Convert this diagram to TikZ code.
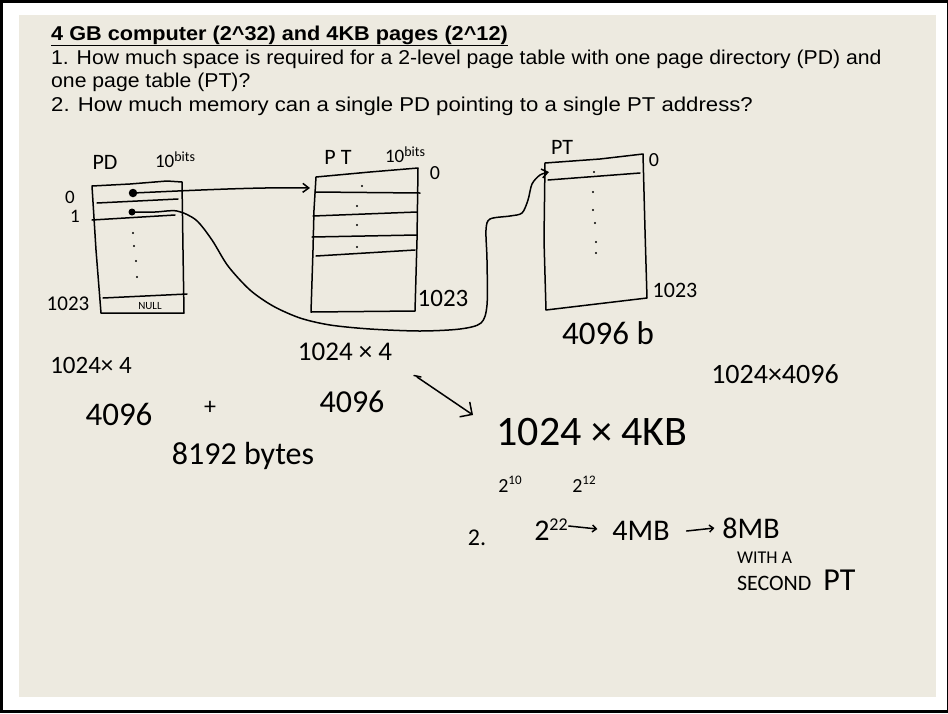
\documentclass[tikz,border=0pt]{standalone}
\usepackage{fontspec}
\setmainfont{Liberation Sans}
\newfontfamily\hwfont{Carlito}
\usetikzlibrary{arrows.meta}
\definecolor{paper}{RGB}{237,234,224}
\newcommand\hsz[1]{\hwfont\fontsize{#1}{#1}\selectfont}
\newcommand\qtxt[2]{\scalebox{#1}[1]{\fontsize{20}{24}\selectfont #2}}
\begin{document}
\begin{tikzpicture}[x=1pt,y=-1pt,
  hand/.style={line width=1.5pt,line cap=round,line join=round},
  harrow/.style={hand,-{Straight Barb[length=6pt,width=9pt]}},
  hw/.style={inner sep=0pt,outer sep=0pt},
  hwb/.style={inner sep=0pt,outer sep=0pt,anchor=base west},
  qline/.style={anchor=base west,inner sep=0pt},
  dotnode/.style={circle,fill,inner sep=0pt}]
\useasboundingbox (0,0) rectangle (948,713);
\fill[black] (0,0) rectangle (948,713);
\fill[white] (3,3) rectangle (946.5,709.5);
\fill[paper] (19,15) rectangle (936,697);

% question text
\node[qline] (title) at (51,40) {\qtxt{1.084}{\bfseries\underline{4 GB computer (2\textasciicircum 32) and 4KB pages (2\textasciicircum 12)}}};
\node[qline] (q1a) at (51,64.3) {\qtxt{1.06}{1. How much space is required for a 2-level page table with one page directory (PD) and}};
\node[qline] (q1b) at (51,87.7) {\qtxt{1.06}{one page table (PT)?}};
\node[qline] (q2) at (51,111.7) {\qtxt{1.108}{2. How much memory can a single PD pointing to a single PT address?}};

% ---- PD box
\draw[hand] (92,186) -- (130,184) -- (167,181) -- (182,182) -- (183,250) -- (184,313) -- (101,313) -- (96,250) -- cycle;
\draw[hand] (97,203) -- (178,199);
\draw[hand] (92,220) -- (175,215);
\draw[hand] (103,298) -- (187,294);
\foreach \p in {(133,233),(134,246),(136,261),(137,277)} \fill \p circle (1.2pt);
\node[dotnode,minimum size=8.5pt] (d0) at (133,193) {};
\node[dotnode,minimum size=7pt] (d1) at (132,212) {};

\node[hw] (pdlab) at (105,162) {\hsz{22}PD};
\node[hwb] (pdbits) at (155,167) {\hsz{19}10\raisebox{6pt}{\hsz{14}bits}};
\node[hw] (pd0) at (70,197) {\hsz{19}0};
\node[hw] (pd1) at (75,216) {\hsz{19}1};
\node[hw] (pd1023) at (68,304) {\hsz{21}1023};
\node[hw] (null) at (150,306) {\hsz{11}NULL};

% ---- PT (first)
\draw[hand] (316,177) -- (370,172) -- (418,168) -- (417,240) -- (415,311) -- (311,312) -- (313,250) -- (314,210) -- cycle;
\draw[hand] (315,192) -- (420,193);
\draw[hand] (313,216) -- (417,212);
\draw[hand] (312,237) -- (417,235);
\draw[hand] (316,256) -- (415,250);
\foreach \p in {(362,186),(357,206),(357,225),(357,247)} \fill \p circle (1.1pt);
\node[hw] (ptlab) at (338,157) {\hsz{22}P T};
\node[hwb] (ptbits) at (385,162) {\hsz{19}10\raisebox{6pt}{\hsz{14}bits}};
\node[hw] (pt0) at (435,173) {\hsz{20}0};
\node[hw] (pt1023) at (443,298) {\hsz{25}1023};

% ---- PT (second)
\draw[hand] (545,163) -- (600,159) -- (643,154) -- (645,230) -- (647,298) -- (546,310) -- (544,240) -- cycle;
\draw[hand] (548,180) -- (640,173);
\foreach \p in {(594,172),(593,192),(593,210),(595,223),(596,242),(596,253)} \fill \p circle (1.1pt);
\node[hw] (pt2lab) at (562,147) {\hsz{22}PT};
\node[hw] (pt20) at (654,160) {\hsz{20}0};
\node[hw] (pt21023) at (675,290) {\hsz{22}1023};
\node[hw] (b4096) at (608,333) {\hsz{33}4096 b};

% connectors
\coordinate (pt1in) at (310,188);
\coordinate (pt2in) at (549,172);
\draw[harrow] (d0.center) .. controls (200,190) and (260,187) .. (pt1in);
\draw[harrow] plot[smooth,tension=0.5] coordinates {(d1.center) (155,212) (177,211) (196,220) (212,240) (228,266) (250,290) (273,306) (300,318) (330,325) (370,329) (420,331) (460,329) (481,323) (487,305) (487,260) (486,230) (490,219) (510,216) (522,213) (528,200) (532,184) (540,175) (pt2in)};

% ---- calculations
\node[hw] (c1) at (91,365) {\hsz{25}1024× 4};
\node[hw] (c2) at (119,414) {\hsz{33}4096};
\node[hw] (plus) at (210,408) {\hsz{24}+};
\node[hw] (c3) at (243,456) {\hsz{32}8192 bytes};
\node[hw] (c4) at (345,352) {\hsz{27}1024 × 4};
\node[hw] (c5) at (352,402) {\hsz{32}4096};
\node[hw] (c6) at (775,374) {\hsz{28}1024×4096};
\node[hw] (big) at (592,432) {\hsz{42}1024 × 4KB};

\coordinate (a1s) at (417,377);
\coordinate (a1e) at (473,415);
\draw[hand] (414,375.5) -- (421,377);
\draw[hand,-{Straight Barb[length=9pt,width=18pt]}] (a1s) -- (a1e);

\node[hw] (p10) at (510,484) {\hsz{20}2\raisebox{8pt}{\hsz{13}10}};
\node[hw] (p12) at (584,484) {\hsz{20}2\raisebox{8pt}{\hsz{13}12}};
\node[hw] (n2) at (477,538) {\hsz{24}2.};
\node[hw] (p22) at (551,530) {\hsz{30}2\raisebox{10pt}{\hsz{18}22}};
\node[hw] (mb4) at (641,531) {\hsz{30}4MB};
\node[hw] (mb8) at (751,528) {\hsz{30}8MB};
\node[hwb] (with) at (737,563) {\hsz{18}WITH A};
\node[hwb] (second) at (737,590) {\hsz{22}SECOND\hspace{12pt}\hsz{32}PT};
\draw[hand,-{Straight Barb[length=4pt,width=7pt]}] ([xshift=1pt,yshift=4pt]p22.east) -- ([xshift=-15pt,yshift=2pt]mb4.west);
\draw[hand,-{Straight Barb[length=4pt,width=7pt]}] ([xshift=17pt]mb4.east) -- ([xshift=-8pt]mb8.west);
\end{tikzpicture}
\end{document}
